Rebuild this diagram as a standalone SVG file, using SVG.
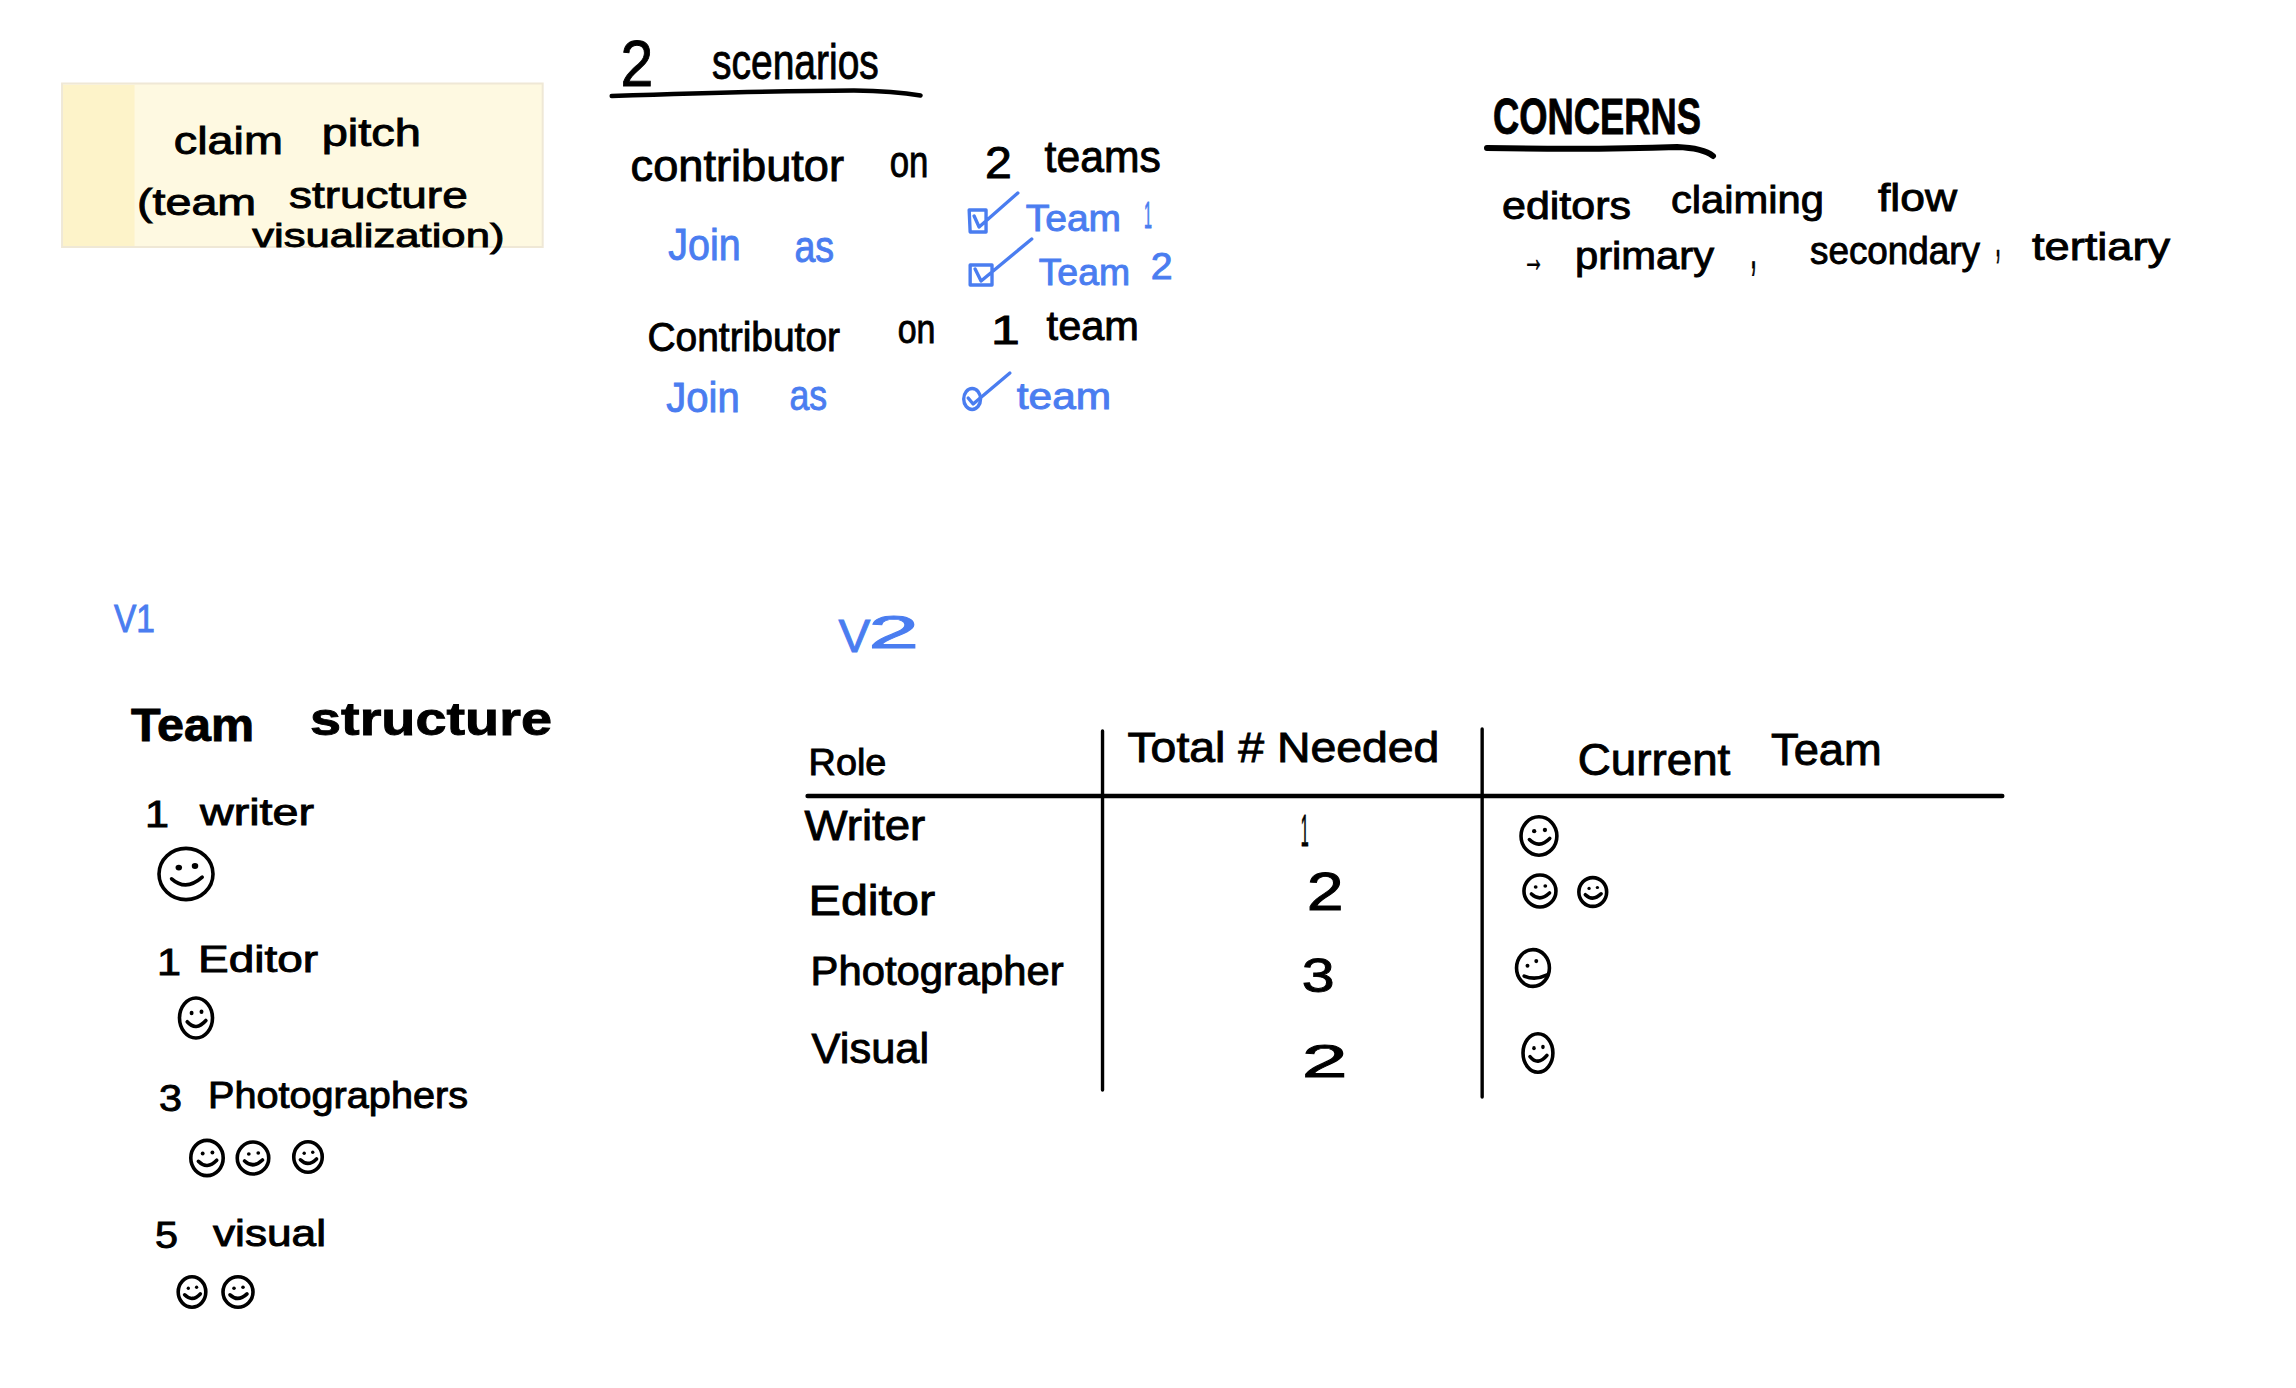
<svg xmlns="http://www.w3.org/2000/svg" width="2296" height="1388" viewBox="0 0 2296 1388">
<style>
text{font-family:"Liberation Sans",Arial,sans-serif;fill:#000;stroke:#000;stroke-width:.9;}
.b text,text.b{fill:#4a7df0;stroke:#4a7df0}
.bold{font-weight:bold}
.ink{fill:none;stroke:#000;stroke-linecap:round;stroke-linejoin:round;stroke-width:3.4}
.blue{fill:none;stroke:#4a7df0;stroke-linecap:round;stroke-linejoin:round;stroke-width:3.4}
.face{fill:none;stroke:#000;stroke-width:3.6;stroke-linecap:round;stroke-linejoin:round;vector-effect:non-scaling-stroke}
.eye{fill:#000}
</style>
<defs>
<g id="smile"><ellipse cx="0" cy="0" rx="15" ry="16" class="face"/><circle cx="-4" cy="-4" r="1.8" class="eye"/><circle cx="5" cy="-5" r="1.8" class="eye"/><path d="M-8 3Q0 11 9 2" class="face"/></g>
</defs>
<rect width="2296" height="1388" fill="#fff"/>

<g transform="scale(.993 1)">
<g id="sticky">
<rect x="62.500" y="83.500" width="484" height="163.500" fill="#fef9e1" stroke="#efe8d6" stroke-width="2"/>
<rect x="63.500" y="85" width="72" height="161" fill="#fdf3c9"/>
<text font-size="38"><tspan x="175" y="154" textLength="110" lengthAdjust="spacingAndGlyphs">claim</tspan> <tspan x="324" y="146" textLength="100" lengthAdjust="spacingAndGlyphs">pitch</tspan></text>
<text font-size="37"><tspan x="138" y="215" textLength="120" lengthAdjust="spacingAndGlyphs">(team</tspan> <tspan x="291" y="208" textLength="180" lengthAdjust="spacingAndGlyphs">structure</tspan></text>
<text font-size="34"><tspan x="254" y="247" textLength="254" lengthAdjust="spacingAndGlyphs">visualization)</tspan></text>
</g>

<g id="scenarios">
<text font-size="64"><tspan x="625" y="86" textLength="33" lengthAdjust="spacingAndGlyphs">2</tspan> <tspan x="717" y="79" textLength="168" lengthAdjust="spacingAndGlyphs" font-size="50">scenarios</tspan></text>
<path class="ink" style="stroke-width:4.5" d="M616 96Q770 91 860 90.500Q900 91 927 95.500"/>
<text font-size="44"><tspan x="635" y="181" textLength="215" lengthAdjust="spacingAndGlyphs">contributor</tspan> <tspan x="896" y="177" textLength="39" lengthAdjust="spacingAndGlyphs">on</tspan> <tspan x="992" y="178" textLength="27" lengthAdjust="spacingAndGlyphs">2</tspan> <tspan x="1052" y="172" textLength="117" lengthAdjust="spacingAndGlyphs">teams</tspan></text>
<g class="b">
<text font-size="44"><tspan x="673" y="260" textLength="73" lengthAdjust="spacingAndGlyphs">Join</tspan> <tspan x="800" y="262" textLength="40" lengthAdjust="spacingAndGlyphs">as</tspan></text>
<text font-size="36"><tspan x="1033" y="231" textLength="96" lengthAdjust="spacingAndGlyphs">Team</tspan> <tspan x="1152" y="228" textLength="8" lengthAdjust="spacingAndGlyphs">1</tspan></text>
<text font-size="36"><tspan x="1046" y="285" textLength="92" lengthAdjust="spacingAndGlyphs">Team</tspan> <tspan x="1159" y="279" textLength="22" lengthAdjust="spacingAndGlyphs">2</tspan></text>
</g>
<path class="blue" d="M976 210H993V232H977ZM981 216L986 227L1025 193"/>
<path class="blue" d="M977 265H999V285H977ZM982 269L988 281L1039 239"/>
<text font-size="40"><tspan x="652" y="351" textLength="194" lengthAdjust="spacingAndGlyphs">Contributor</tspan> <tspan x="904" y="343" textLength="38" lengthAdjust="spacingAndGlyphs">on</tspan> <tspan x="998" y="344" textLength="29" lengthAdjust="spacingAndGlyphs">1</tspan> <tspan x="1054" y="340" textLength="93" lengthAdjust="spacingAndGlyphs">team</tspan></text>
<g class="b">
<text font-size="42"><tspan x="671" y="412" textLength="74" lengthAdjust="spacingAndGlyphs">Join</tspan> <tspan x="795" y="410" textLength="38" lengthAdjust="spacingAndGlyphs">as</tspan></text>
<text font-size="36"><tspan x="1024" y="409" textLength="95" lengthAdjust="spacingAndGlyphs">team</tspan></text>
</g>
<ellipse class="blue" cx="979" cy="399" rx="8.500" ry="10.500"/>
<path class="blue" d="M975 398L980 404L1017 373"/>
</g>
</g>

<g id="concerns" transform="translate(-3 0)">
<text font-size="50" class="bold"><tspan x="1496" y="134" textLength="208" lengthAdjust="spacingAndGlyphs">CONCERNS</tspan></text>
<path class="ink" style="stroke-width:6" d="M1490 148Q1600 150 1680 147Q1706 148 1716 156"/>
<text font-size="38"><tspan x="1505" y="219" textLength="129" lengthAdjust="spacingAndGlyphs">editors</tspan> <tspan x="1674" y="213" textLength="153" lengthAdjust="spacingAndGlyphs">claiming</tspan> <tspan x="1881" y="211" textLength="79" lengthAdjust="spacingAndGlyphs">flow</tspan></text>
<text font-size="38"><tspan x="1526" y="271" textLength="21" lengthAdjust="spacingAndGlyphs">→</tspan> <tspan x="1578" y="269" textLength="139" lengthAdjust="spacingAndGlyphs">primary</tspan> <tspan x="1753" y="268" textLength="7" lengthAdjust="spacingAndGlyphs" font-size="60">,</tspan> <tspan x="1813" y="264" textLength="170" lengthAdjust="spacingAndGlyphs">secondary</tspan> <tspan x="1998" y="256" textLength="6" lengthAdjust="spacingAndGlyphs" font-size="54">,</tspan> <tspan x="2035" y="260" textLength="138" lengthAdjust="spacingAndGlyphs">tertiary</tspan></text>
</g>

<g id="v1">
<text class="b" font-size="38"><tspan x="114" y="632" textLength="41" lengthAdjust="spacingAndGlyphs">V1</tspan></text>
<text font-size="47" class="bold"><tspan x="131" y="741" textLength="123" lengthAdjust="spacingAndGlyphs">Team</tspan> <tspan x="310" y="735" textLength="242" lengthAdjust="spacingAndGlyphs">structure</tspan></text>
<text font-size="36"><tspan x="145" y="827" textLength="24" lengthAdjust="spacingAndGlyphs">1</tspan> <tspan x="200" y="825" textLength="114" lengthAdjust="spacingAndGlyphs">writer</tspan></text>
<use href="#smile" transform="translate(186 874) scale(1.8 1.6)"/>
<text font-size="36"><tspan x="157" y="975" textLength="24" lengthAdjust="spacingAndGlyphs">1</tspan> <tspan x="198" y="972" textLength="120" lengthAdjust="spacingAndGlyphs">Editor</tspan></text>
<use href="#smile" transform="translate(196 1018) scale(1.1 1.25)"/>
<text font-size="36"><tspan x="159" y="1111" textLength="23" lengthAdjust="spacingAndGlyphs">3</tspan> <tspan x="208" y="1108" textLength="260" lengthAdjust="spacingAndGlyphs">Photographers</tspan></text>
<use href="#smile" transform="translate(207 1158) scale(1.08 1.1)"/>
<use href="#smile" transform="translate(253 1158) scale(1.05 1)"/>
<use href="#smile" transform="translate(308 1157) scale(.95 .95)"/>
<text font-size="36"><tspan x="155" y="1248" textLength="23" lengthAdjust="spacingAndGlyphs">5</tspan> <tspan x="213" y="1246" textLength="113" lengthAdjust="spacingAndGlyphs">visual</tspan></text>
<use href="#smile" transform="translate(192 1292) scale(.92 .95)"/>
<use href="#smile" transform="translate(238 1292) scale(1 .95)"/>
</g>

<g id="v2" transform="translate(3.500 0) scale(.9964 1)">
<text class="b" font-size="46"><tspan x="838" y="652" textLength="32" lengthAdjust="spacingAndGlyphs">V</tspan><tspan x="868" y="648" textLength="51" lengthAdjust="spacingAndGlyphs">2</tspan></text>
<text font-size="36"><tspan x="808" y="775" textLength="78" lengthAdjust="spacingAndGlyphs">Role</tspan></text>
<text font-size="42"><tspan x="1128" y="762" textLength="313" lengthAdjust="spacingAndGlyphs">Total # Needed</tspan></text>
<text font-size="44"><tspan x="1580" y="775" textLength="153" lengthAdjust="spacingAndGlyphs">Current</tspan> <tspan x="1774" y="765" textLength="111" lengthAdjust="spacingAndGlyphs">Team</tspan></text>
<path class="ink" d="M807 796H2006" style="stroke-width:4.500"/>
<path class="ink" d="M1103 731V1090M1484 729V1097"/>
<text font-size="42"><tspan x="804" y="840" textLength="121" lengthAdjust="spacingAndGlyphs">Writer</tspan></text>
<text font-size="44"><tspan x="1302" y="846" textLength="8" lengthAdjust="spacingAndGlyphs">1</tspan></text>
<use href="#smile" transform="translate(1541 836) scale(1.2 1.2)"/>
<text font-size="42"><tspan x="808" y="915" textLength="127" lengthAdjust="spacingAndGlyphs">Editor</tspan></text>
<text font-size="54"><tspan x="1308" y="910" textLength="37" lengthAdjust="spacingAndGlyphs">2</tspan></text>
<use href="#smile" transform="translate(1542 891) scale(1.07 1)"/>
<use href="#smile" transform="translate(1595 892) scale(.93 .9)"/>
<text font-size="40"><tspan x="810" y="985" textLength="254" lengthAdjust="spacingAndGlyphs">Photographer</tspan></text>
<text font-size="48"><tspan x="1303" y="992" textLength="33" lengthAdjust="spacingAndGlyphs">3</tspan></text>
<g transform="translate(1535 968) scale(1.1 1.15)"><ellipse rx="15" ry="16" class="face"/><circle cx="-5" cy="-2" r="1.8" class="eye"/><circle cx="3" cy="-6" r="1.8" class="eye"/><path d="M-8 7Q2 11 13 6" class="face"/></g>
<text font-size="42"><tspan x="811" y="1063" textLength="118" lengthAdjust="spacingAndGlyphs">Visual</tspan></text>
<text font-size="46"><tspan x="1303" y="1077" textLength="46" lengthAdjust="spacingAndGlyphs">2</tspan></text>
<use href="#smile" transform="translate(1540 1053) scale(1 1.2)"/>
</g>
</svg>
